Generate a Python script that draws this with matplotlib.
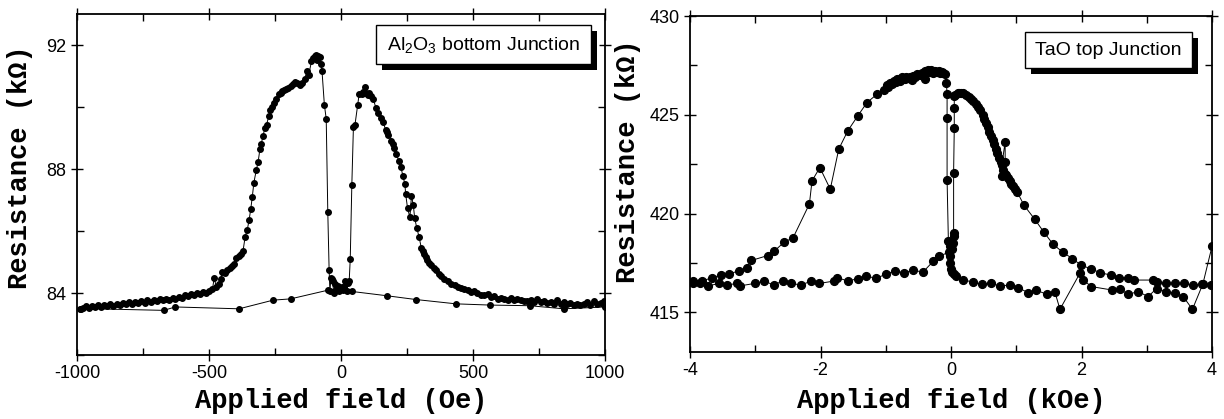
import numpy as np
import matplotlib
matplotlib.use('Agg')
import matplotlib.pyplot as plt
from matplotlib.patches import Rectangle
from matplotlib.ticker import MultipleLocator

plt.rcParams['font.family'] = ['Liberation Sans', 'DejaVu Sans']
plt.rcParams['mathtext.fontset'] = 'custom'
plt.rcParams['mathtext.rm'] = 'Liberation Sans'
plt.rcParams['mathtext.default'] = 'regular'
plt.rcParams['axes.unicode_minus'] = False

# ---- Al2O3 bottom junction (field in Oe, resistance in kOhm) ----
# dense sweep from -1000 to +1000
al_x_up = [-990, -978, -966, -955, -944, -932, -920, -909, -897, -886, -874, -862, -850, -839,
           -827, -815, -803, -792, -780, -768, -756, -744, -733, -721, -709, -697, -686, -674,
           -662, -650, -638, -627, -615, -603, -591, -580, -568, -556, -545, -533, -521, -510,
           -499, -487, -480, -473, -461, -455, -450, -441, -431, -422, -412, -404, -397, -386,
           -378, -371, -363, -355, -348, -342, -336, -330, -321, -314, -307, -302, -296, -288,
           -282, -273, -268, -263, -254, -246, -235, -229, -223, -215, -208, -200, -191, -182,
           -173, -165, -154, -146, -138, -129, -122, -112, -106, -100, -95, -91, -86, -80, -76,
           -72, -63, -56, -50, -45, -42, -38, -34, -31, -28, -22, -17, -12, -7, -3, 2, 6, 11,
           16, 21, 26, 31, 35, 41, 47, 53, 63, 69, 78, 84, 91, 96, 101, 107, 113, 122, 132, 141,
           150, 160, 169, 174, 179, 191, 196, 201, 210, 219, 227, 235, 242, 245, 252, 261, 267,
           274, 279, 287, 296, 304, 309, 315, 321, 327, 335, 342, 352, 361, 370, 380, 392, 405,
           417, 430, 442, 455, 467, 480, 492, 505, 517, 530, 543, 556, 568, 581, 593, 606, 618,
           631, 643, 656, 668, 680, 693, 705, 718, 731, 744, 756, 769, 782, 795, 807, 820, 832,
           845, 857, 869, 882, 895, 907, 920, 933, 945, 958, 970, 983, 996]
al_r_up = [83.48, 83.53, 83.57, 83.52, 83.59, 83.55, 83.60, 83.56, 83.62, 83.58, 83.63, 83.59,
           83.66, 83.61, 83.68, 83.63, 83.70, 83.65, 83.72, 83.67, 83.74, 83.69, 83.76, 83.71,
           83.78, 83.73, 83.80, 83.76, 83.82, 83.78, 83.85, 83.81, 83.88, 83.84, 83.92, 83.89,
           83.96, 83.93, 83.99, 83.97, 84.04, 84.01, 84.06, 84.12, 84.50, 84.20, 84.29, 84.45,
           84.69, 84.66, 84.75, 84.80, 84.87, 84.95, 85.13, 85.20, 85.25, 85.36, 85.82, 86.04,
           86.36, 86.70, 87.10, 87.56, 87.96, 88.22, 88.65, 88.81, 89.05, 89.33, 89.43, 89.72,
           89.90, 89.99, 90.12, 90.26, 90.42, 90.45, 90.52, 90.55, 90.58, 90.62, 90.68, 90.75,
           90.82, 90.76, 90.71, 90.78, 90.89, 91.17, 91.04, 91.47, 91.58, 91.63, 91.68, 91.52,
           91.66, 91.60, 91.40, 91.17, 90.07, 89.62, 86.60, 84.75, 84.05, 84.50, 84.45, 84.39,
           84.00, 84.29, 84.12, 84.22, 84.05, 84.14, 84.20, 84.09, 84.18, 84.39, 84.06, 84.33,
           84.38, 85.09, 87.48, 89.34, 89.43, 90.05, 90.43, 90.43, 90.50, 90.66, 90.45, 90.39,
           90.45, 90.36, 90.26, 89.98, 89.80, 89.64, 89.51, 89.26, 89.20, 89.10, 88.91, 88.82,
           88.69, 88.48, 88.26, 88.05, 87.76, 87.51, 87.19, 86.74, 86.44, 87.14, 86.83, 86.42,
           86.10, 85.80, 85.46, 85.35, 85.26, 85.17, 85.08, 84.98, 84.90, 84.80, 84.73, 84.62,
           84.54, 84.45, 84.38, 84.30, 84.25, 84.20, 84.17, 84.14, 84.11, 84.04, 84.06, 84.00,
           83.95, 83.92, 83.97, 83.86, 83.90, 83.82, 83.84, 83.80, 83.79, 83.84, 83.76, 83.80,
           83.78, 83.73, 83.74, 83.79, 83.72, 83.82, 83.70, 83.75, 83.68, 83.72, 83.66, 83.78,
           83.65, 83.70, 83.64, 83.69, 83.62, 83.66, 83.61, 83.65, 83.70, 83.62, 83.73, 83.64,
           83.69, 83.74]
# sparse sweep back from +1000 to -1000
al_x_down = [1000, 844, 715, 566, 436, 283, 175, 41, -50, -191, -257, -386, -628, -671, -985]
al_r_down = [83.55, 83.49, 83.59, 83.61, 83.65, 83.79, 83.91, 84.05, 84.09, 83.81, 83.77,
             83.49, 83.55, 83.44, 83.50]

# ---- TaO top junction (field in kOe, resistance in kOhm) ----
ta_x_a = [-3.96, -3.82, -3.66, -3.53, -3.40, -3.25, -3.13, -3.06, -2.81, -2.71, -2.56, -2.42,
          -2.17, -2.13, -2.01, -1.85, -1.72, -1.58, -1.43, -1.29, -1.14, -1.02, -0.98, -0.96,
          -0.93, -0.90, -0.88, -0.85, -0.82, -0.78, -0.75, -0.71, -0.69, -0.66, -0.63, -0.60,
          -0.58, -0.55, -0.52, -0.48, -0.45, -0.43, -0.40, -0.40, -0.37, -0.35, -0.32, -0.30,
          -0.28, -0.25, -0.22, -0.19, -0.17, -0.14, -0.12, -0.09, -0.07, -0.06, -0.06, -0.06,
          -0.04, -0.02, -0.02, -0.02, 0.00, 0.02, 0.04, 0.08, 0.19, 0.34, 0.47, 0.62, 0.75,
          0.90, 1.03, 1.18, 1.31, 1.47, 1.59, 1.67, 1.98, 2.03, 2.15, 2.46, 2.59, 2.72, 2.87,
          3.02, 3.15, 3.30, 3.43, 3.56, 3.70, 3.86, 4.00]
ta_r_a = [416.59, 416.59, 416.76, 416.89, 416.96, 417.10, 417.26, 417.63, 417.88, 418.10,
          418.55, 418.78, 420.49, 421.66, 422.33, 421.24, 423.27, 424.20, 424.94, 425.61,
          426.03, 426.28, 426.50, 426.42, 426.62, 426.55, 426.72, 426.66, 426.79, 426.72,
          426.89, 426.80, 426.92, 426.85, 426.89, 426.75, 426.95, 426.90, 427.05, 427.00,
          427.12, 427.05, 426.79, 427.22, 427.15, 427.29, 427.18, 427.25, 427.12, 427.22,
          427.15, 427.20, 427.10, 427.17, 427.12, 427.05, 426.61, 426.03, 424.82, 421.71,
          418.60, 418.35, 417.85, 417.52, 417.18, 417.05, 416.93, 416.84, 416.64, 416.54,
          416.42, 416.47, 416.34, 416.39, 416.26, 416.00, 416.12, 415.92, 416.06, 415.16,
          417.01, 416.64, 416.31, 416.14, 416.17, 415.92, 416.06, 415.80, 416.21, 416.06,
          415.97, 415.80, 415.16, 416.44, 418.34]
ta_x_b = [-3.95, -3.85, -3.72, -3.56, -3.43, -3.28, -3.24, -3.01, -2.86, -2.72, -2.58, -2.45,
          -2.30, -2.14, -2.02, -1.79, -1.74, -1.58, -1.43, -1.30, -1.15, -1.00, -0.86, -0.72,
          -0.58, -0.43, -0.27, -0.18, -0.03, 0.01, 0.03, 0.04, 0.04, 0.04, 0.05, 0.05, 0.05,
          0.06, 0.10, 0.13, 0.16, 0.19, 0.23, 0.27, 0.30, 0.34, 0.38, 0.42, 0.45, 0.49, 0.51,
          0.54, 0.56, 0.59, 0.61, 0.64, 0.66, 0.69, 0.71, 0.74, 0.76, 0.78, 0.83, 0.83, 0.80,
          0.78, 0.82, 0.85, 0.87, 0.90, 0.92, 0.95, 0.98, 1.01, 1.12, 1.28, 1.42, 1.56, 1.71,
          1.86, 1.99, 2.14, 2.29, 2.45, 2.58, 2.72, 2.80, 3.10, 3.15, 3.29, 3.44, 3.57, 3.71,
          3.84, 3.98]
ta_r_b = [416.47, 416.47, 416.34, 416.47, 416.39, 416.47, 416.34, 416.47, 416.59, 416.39,
          416.59, 416.47, 416.39, 416.59, 416.47, 416.59, 416.76, 416.59, 416.71, 416.84,
          416.73, 416.93, 417.10, 417.01, 417.14, 417.04, 417.60, 417.85, 418.05, 418.19,
          418.52, 418.86, 419.03, 422.08, 424.32, 425.32, 425.94, 425.99, 426.10, 426.11,
          426.10, 426.08, 426.00, 425.91, 425.82, 425.71, 425.57, 425.41, 425.22, 424.99,
          424.80, 424.57, 424.38, 424.15, 423.95, 423.73, 423.50, 423.26, 423.05, 422.81,
          422.62, 422.47, 423.64, 422.63, 422.20, 421.88, 422.00, 421.96, 421.78, 421.63,
          421.50, 421.38, 421.25, 421.12, 420.42, 419.73, 419.08, 418.47, 418.05, 417.73,
          417.40, 417.21, 417.01, 416.89, 416.76, 416.76, 416.64, 416.64, 416.54, 416.47,
          416.47, 416.47, 416.39, 416.42, 416.39]

W, H = 1224, 419
fig = plt.figure(figsize=(W / 100, H / 100), dpi=100)

label_font = dict(family=['Liberation Mono', 'DejaVu Sans Mono'], fontweight='bold', fontsize=19.5)


def style_axes(ax):
    for s in ax.spines.values():
        s.set_linewidth(1.3)
    ax.tick_params(which='both', top=True, right=True, labelsize=13, width=1.0, pad=3)
    ax.tick_params(which='major', direction='inout', length=9)
    ax.tick_params(which='minor', direction='in', length=5)


def add_box(ax, text, x0, y0, x1, y1, axw, axh):
    dx, dy = 6 / axw, 6 / axh
    ax.add_patch(Rectangle((x0 + dx, y0 - dy), x1 - x0, y1 - y0, transform=ax.transAxes,
                           facecolor='black', edgecolor='black', lw=0, zorder=5, clip_on=False))
    ax.add_patch(Rectangle((x0, y0), x1 - x0, y1 - y0, transform=ax.transAxes,
                           facecolor='white', edgecolor='black', lw=1.0, zorder=6, clip_on=False))
    ax.text((x0 + x1) / 2, (y0 + y1) / 2, text, transform=ax.transAxes, ha='center',
            va='center', fontsize=14, zorder=7)


# left panel
ax1 = fig.add_axes([77 / W, 1 - 355 / H, 528 / W, 341 / H])
ax1.plot(al_x_up, al_r_up, '-o', color='black', lw=0.7, ms=4)
ax1.plot(al_x_down, al_r_down, '-o', color='black', lw=0.7, ms=4)
ax1.set_xlim(-1000, 1000)
ax1.set_ylim(82, 93)
ax1.xaxis.set_major_locator(MultipleLocator(500))
ax1.xaxis.set_minor_locator(MultipleLocator(250))
ax1.set_yticks([84, 88, 92])
ax1.yaxis.set_minor_locator(MultipleLocator(2))
style_axes(ax1)
ax1.set_xlabel('Applied field (Oe)', **label_font)
ax1.set_ylabel('Resistance (k\u03a9)', **label_font)
ax1.xaxis.set_label_coords(0.5, -0.097)
ax1.yaxis.set_label_coords(-0.083, 0.552)
add_box(ax1, 'Al$_2$O$_3$ bottom Junction', 0.566, 0.853, 0.973, 0.968, 528, 341)

# right panel
ax2 = fig.add_axes([690 / W, 1 - 352 / H, 522 / W, 336 / H])
ax2.plot(ta_x_a, ta_r_a, '-o', color='black', lw=0.7, ms=5.6)
ax2.plot(ta_x_b, ta_r_b, '-o', color='black', lw=0.7, ms=5.6)
ax2.set_xlim(-4, 4)
ax2.set_ylim(413, 430)
ax2.xaxis.set_major_locator(MultipleLocator(2))
ax2.xaxis.set_minor_locator(MultipleLocator(1))
ax2.set_yticks([415, 420, 425, 430])
ax2.yaxis.set_minor_locator(MultipleLocator(2.5))
style_axes(ax2)
ax2.set_xlabel('Applied field (kOe)', **label_font)
ax2.set_ylabel('Resistance (k\u03a9)', **label_font)
ax2.xaxis.set_label_coords(0.5, -0.106)
ax2.yaxis.set_label_coords(-0.094, 0.567)
add_box(ax2, 'TaO top Junction', 0.642, 0.845, 0.962, 0.952, 522, 336)

fig.savefig('out.png', dpi=100)
